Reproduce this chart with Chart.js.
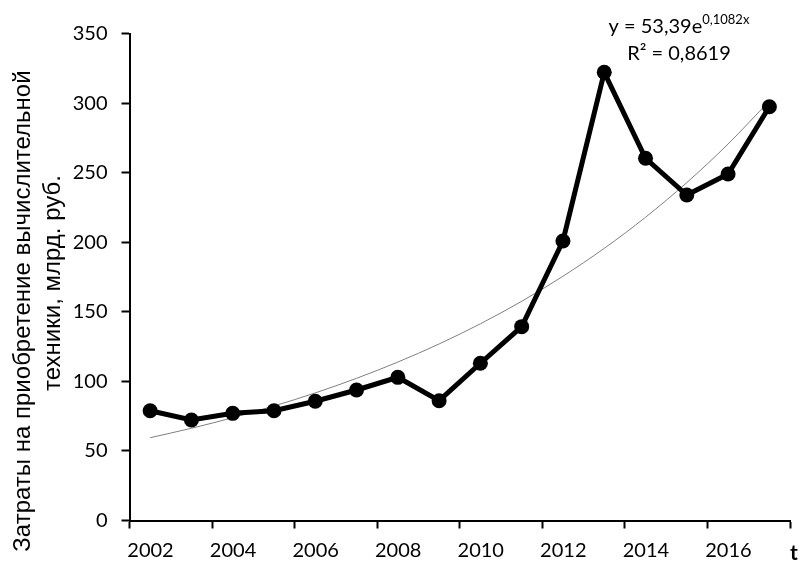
<!DOCTYPE html>
<html>
<head>
<meta charset="utf-8">
<script src="https://cdn.jsdelivr.net/npm/chart.js@4"></script>
<style>
  html, body { margin: 0; padding: 0; background: #fff; }
  #wrap { width: 800px; height: 563px; }
</style>
</head>
<body>
<div id="wrap"><canvas id="c" width="800" height="563"></canvas></div>
<script>
// Годы и затраты на приобретение вычислительной техники, млрд. руб.
const years = [2002, 2003, 2004, 2005, 2006, 2007, 2008, 2009, 2010, 2011, 2012, 2013, 2014, 2015, 2016, 2017];
const spending = [78.9, 72.2, 77.0, 78.9, 85.7, 93.8, 102.9, 86.1, 113.0, 139.3, 200.9, 322.1, 260.3, 233.9, 249.0, 297.4];

// Экспоненциальный тренд y = a·e^(b·x), x = номер года (1..16)
const trendA = 53.39;
const trendB = 0.1082;
const trendR2 = '0,8619';

// Подписи оси X (каждый второй год)
const xTickLabels = ['2002', '2004', '2006', '2008', '2010', '2012', '2014', '2016'];
const yTicks = [0, 50, 100, 150, 200, 250, 300, 350];

const yTitleLines = ['Затраты на приобретение вычислительной', 'техники, млрд. руб.'];

const mainPoints = years.map((yr, i) => ({ x: yr, y: spending[i] }));
const trendPoints = years.map((yr, i) => ({ x: yr, y: trendA * Math.exp(trendB * (i + 1)) }));

Chart.defaults.font.family = 'Lato, "Open Sans", sans-serif';
Chart.defaults.font.size = 20;
Chart.defaults.color = '#000';

const annotations = {
  id: 'annotations',
  afterDraw(chart) {
    const ctx = chart.ctx;
    const area = chart.chartArea;
    ctx.save();
    ctx.fillStyle = '#000';

    // Уравнение тренда
    const cx = 679;
    const base = 'y = ' + trendA.toFixed(2).replace('.', ',') + 'e';
    const sup = '0,' + String(trendB).split('.')[1] + 'x';
    ctx.font = '20px Lato, sans-serif';
    const wBase = ctx.measureText(base).width;
    ctx.font = '13px Lato, sans-serif';
    const wSup = ctx.measureText(sup).width;
    const startX = cx - (wBase + wSup) / 2;
    ctx.textBaseline = 'alphabetic';
    ctx.textAlign = 'left';
    ctx.font = '20px Lato, sans-serif';
    ctx.fillText(base, startX, 33);
    ctx.font = '13px Lato, sans-serif';
    ctx.fillText(sup, startX + wBase, 24);
    ctx.font = '20px Lato, sans-serif';
    ctx.textAlign = 'center';
    ctx.fillText('R² = ' + trendR2, cx, 60);

    // Обозначение оси времени
    ctx.font = 'bold 21px Lato, sans-serif';
    ctx.textAlign = 'center';
    ctx.fillText('t', 794, 560);

    // Заголовок оси Y (две строки)
    ctx.font = '24px "Liberation Sans", Arial, sans-serif';
    ctx.textBaseline = 'middle';
    ctx.textAlign = 'center';
    ctx.save();
    ctx.translate(23, 311);
    ctx.rotate(-Math.PI / 2);
    ctx.fillText(yTitleLines[0], 0, 0);
    ctx.restore();
    ctx.save();
    ctx.translate(53, 283);
    ctx.rotate(-Math.PI / 2);
    ctx.fillText(yTitleLines[1], 0, 0);
    ctx.restore();

    ctx.restore();
  }
};

new Chart(document.getElementById('c'), {
  type: 'line',
  data: {
    datasets: [
      {
        label: 'Затраты',
        data: mainPoints,
        borderColor: '#000',
        backgroundColor: '#000',
        borderWidth: 5,
        pointRadius: 7.5,
        pointBackgroundColor: '#000',
        pointBorderWidth: 0,
        tension: 0
      },
      {
        label: 'Экспоненциальный тренд',
        data: trendPoints,
        borderColor: '#7f7f7f',
        borderWidth: 1,
        pointRadius: 0,
        tension: 0.4,
        cubicInterpolationMode: 'monotone'
      }
    ]
  },
  options: {
    responsive: false,
    animation: false,
    events: [],
    layout: { padding: { top: 33.5, right: 4, left: 0, bottom: 0 } },
    plugins: { legend: { display: false }, tooltip: { enabled: false } },
    scales: {
      x: {
        type: 'linear',
        min: 2001.5,
        max: 2017.5,
        afterBuildTicks(scale) {
          const t = [];
          for (let v = 2001.5; v <= 2017.5; v += 2) t.push({ value: v });
          scale.ticks = t;
        },
        afterFit(scale) { scale.height = 42.5; },
        ticks: {
          autoSkip: false,
          maxRotation: 0,
          labelOffset: 21,
          padding: 10,
          color: '#000',
          font: { size: 20 },
          callback: (value, index) => xTickLabels[index] || ''
        },
        grid: { drawOnChartArea: false, drawTicks: true, tickLength: 8, tickWidth: 2, tickColor: '#000' },
        border: { display: true, color: '#000', width: 2 }
      },
      y: {
        min: 0,
        max: 350,
        afterBuildTicks(scale) { scale.ticks = yTicks.map(v => ({ value: v })); },
        afterFit(scale) { scale.width = 129.5; },
        ticks: { padding: 14, color: '#000', font: { size: 20 } },
        grid: { drawOnChartArea: false, drawTicks: true, tickLength: 8, tickWidth: 2, tickColor: '#000' },
        border: { display: true, color: '#000', width: 2 }
      }
    }
  },
  plugins: [annotations]
});
</script>
</body>
</html>
